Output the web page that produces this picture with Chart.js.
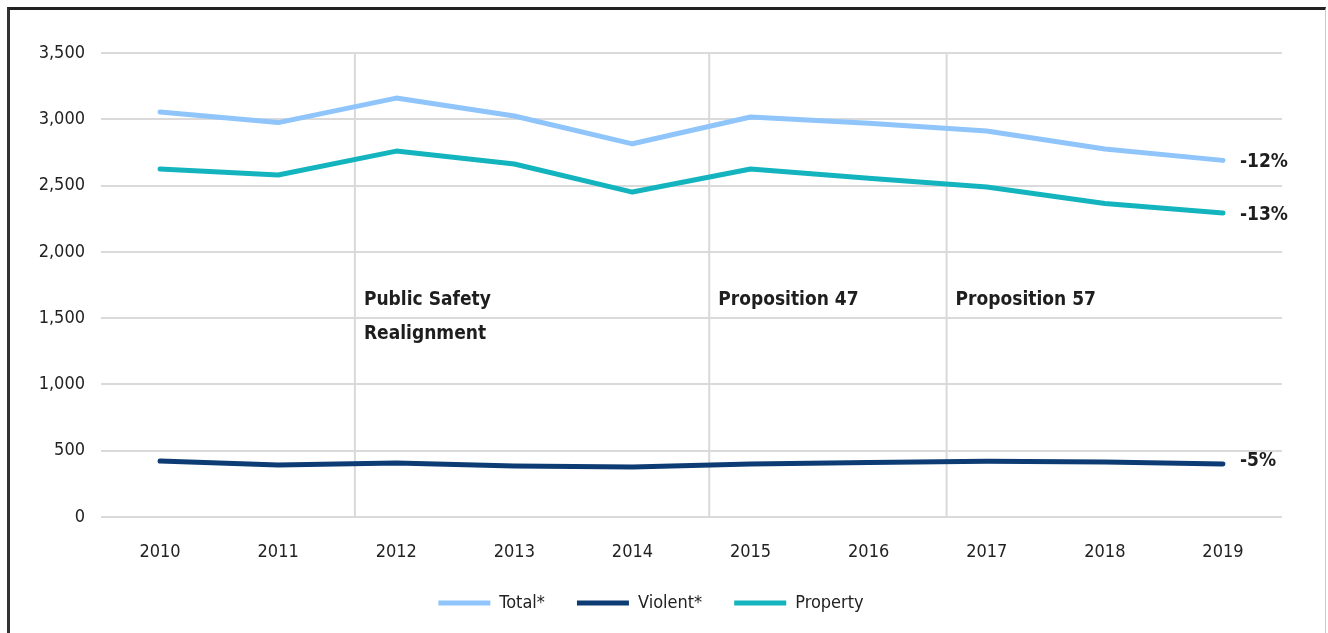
<!DOCTYPE html>
<html>
<head>
<meta charset="utf-8">
<script src="https://cdn.jsdelivr.net/npm/chart.js"></script>
<style>
  body { margin: 0; background: #fff; }
  #frame {
    position: absolute; left: 7px; top: 7px; width: 1315px; height: 700px;
    border-top: 3px solid #222; border-left: 3px solid #333; border-right: 1px solid #ccc;
  }
  #wrap { position: absolute; left: 0; top: 0; width: 1328px; height: 633px; }
</style>
</head>
<body>
<div id="frame"></div>
<div id="wrap"><canvas id="crimeChart"></canvas></div>
<script>
  // Data
  const years = ['2010', '2011', '2012', '2013', '2014', '2015', '2016', '2017', '2018', '2019'];
  const totalRate = [3055, 2975, 3160, 3025, 2815, 3017, 2970, 2912, 2776, 2690];
  const violentRate = [422, 392, 407, 385, 377, 400, 412, 420, 415, 400];
  const propertyRate = [2625, 2580, 2760, 2663, 2451, 2625, 2555, 2489, 2365, 2293];
  const yTicks = [0, 500, 1000, 1500, 2000, 2500, 3000, 3500];

  // Policy changes (decimal year) and their notes
  const eventYears = [2011.65, 2014.65, 2016.66];
  const eventLabels = [['Public Safety', 'Realignment'], ['Proposition 47'], ['Proposition 57']];
  const changeLabels = ['-12%', '-5%', '-13%'];

  const FONT = "'Liberation Sans Narrow', 'DejaVu Sans Condensed', 'Open Sans', sans-serif";
  const colors = ['#8fc5fa', '#0c3c73', '#14b4be'];

  // Event lines, notes and end-of-line change labels
  const notesPlugin = {
    id: 'notes',
    beforeDatasetsDraw(chart) {
      const { ctx, chartArea, scales: { x, y } } = chart;
      ctx.save();
      ctx.strokeStyle = '#d9d9d9';
      ctx.lineWidth = 2;
      eventYears.forEach(function(yr) {
        const px = x.getPixelForValue(yr - Number(years[0]));
        ctx.beginPath();
        ctx.moveTo(px, chartArea.top);
        ctx.lineTo(px, chartArea.bottom);
        ctx.stroke();
      });
      ctx.restore();
    },
    afterDatasetsDraw(chart) {
      const { ctx, scales: { x, y } } = chart;
      ctx.save();
      ctx.fillStyle = '#1e1e1e';
      ctx.font = 'bold 19px ' + FONT;
      ctx.textBaseline = 'middle';
      ctx.textAlign = 'left';
      eventYears.forEach(function(yr, i) {
        const px = x.getPixelForValue(yr - Number(years[0])) + 9;
        const top = y.getPixelForValue(1640);
        eventLabels[i].forEach(function(line, j) {
          ctx.fillText(line, px, top + j * 34);
        });
      });
      chart.data.datasets.forEach(function(ds, i) {
        const meta = chart.getDatasetMeta(i);
        const last = meta.data[meta.data.length - 1];
        ctx.fillText(changeLabels[i], last.x + 17, last.y + (i === 1 ? -3 : 2));
      });
      ctx.restore();
    }
  };

  function initChart() {
    const ctx = document.getElementById('crimeChart').getContext('2d');
    new Chart(ctx, {
      type: 'line',
      data: {
        labels: years,
        datasets: [
          { label: 'Total*', data: totalRate, borderColor: colors[0], backgroundColor: colors[0] },
          { label: 'Violent*', data: violentRate, borderColor: colors[1], backgroundColor: colors[1] },
          { label: 'Property', data: propertyRate, borderColor: colors[2], backgroundColor: colors[2] }
        ]
      },
      options: {
        responsive: true,
        maintainAspectRatio: false,
        animation: false,
        layout: { padding: { top: 53, right: 46, left: 20, bottom: 11 } },
        elements: {
          line: { borderWidth: 5, tension: 0, borderCapStyle: 'round', borderJoinStyle: 'round' },
          point: { radius: 0 }
        },
        plugins: {
          legend: {
            position: 'bottom',
            labels: {
              font: { family: FONT, size: 18 },
              color: '#222',
              boxWidth: 52,
              boxHeight: 5,
              padding: 32,
              generateLabels(chart) {
                return chart.data.datasets.map(function(ds, i) {
                  return { text: ds.label, fillStyle: ds.borderColor, strokeStyle: ds.borderColor,
                           lineWidth: 0, datasetIndex: i, fontColor: '#222' };
                });
              }
            }
          },
          tooltip: { enabled: false }
        },
        scales: {
          x: {
            offset: true,
            grid: { display: false },
            border: { display: false },
            ticks: { font: { family: FONT, size: 18 }, color: '#222', padding: 17, maxRotation: 0 },
            afterFit(scale) { scale.height = 45; }
          },
          y: {
            min: 0,
            max: 3500,
            afterBuildTicks(scale) { scale.ticks = yTicks.map(function(v) { return { value: v }; }); },
            grid: { color: '#dadada', lineWidth: 2, drawTicks: false },
            border: { display: false },
            ticks: {
              font: { family: FONT, size: 18 },
              color: '#222',
              padding: 16,
              callback(v) { return v.toLocaleString('en-US'); }
            },
            afterFit(scale) { scale.width = 81; }
          }
        }
      },
      plugins: [notesPlugin]
    });
  }

  initChart();
</script>
</body>
</html>
